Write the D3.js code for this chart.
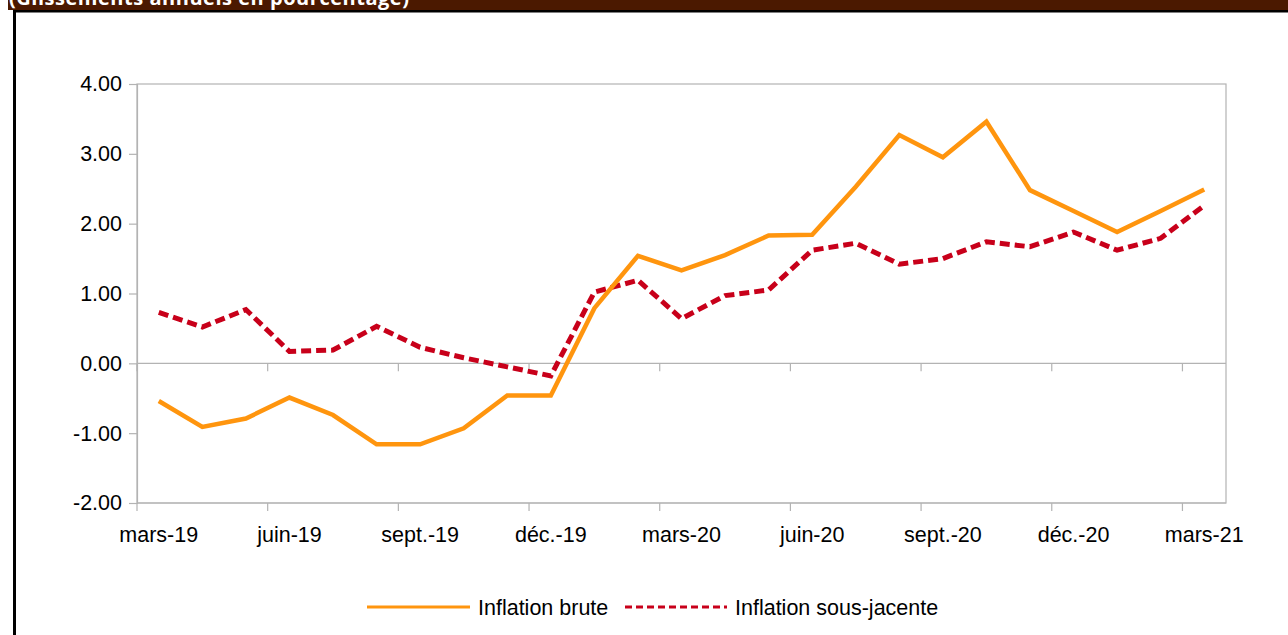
<!DOCTYPE html>
<html>
<head>
<meta charset="utf-8">
<script src="https://cdn.jsdelivr.net/npm/d3@7"></script>
<style>
  body { margin: 0; background: #fff; }
  text { font-family: "Liberation Sans", Arial, sans-serif; }
</style>
</head>
<body>
<div id="chart-container"></div>
<script>
const months = [
  "mars-19", "avr.-19", "mai-19", "juin-19", "juil.-19", "août-19", "sept.-19", "oct.-19", "nov.-19",
  "déc.-19", "janv.-20", "févr.-20", "mars-20", "avr.-20", "mai-20", "juin-20", "juil.-20", "août-20",
  "sept.-20", "oct.-20", "nov.-20", "déc.-20", "janv.-21", "févr.-21", "mars-21"
];
const inflationBrute = [
  -0.54, -0.91, -0.79, -0.49, -0.74, -1.16, -1.16, -0.93, -0.46, -0.46,
  0.79, 1.54, 1.33, 1.55, 1.83, 1.84, 2.53, 3.27, 2.95, 3.46,
  2.48, 2.18, 1.88, 2.18, 2.49
];
const inflationSousJacente = [
  0.73, 0.52, 0.77, 0.17, 0.19, 0.53, 0.23, 0.08, -0.05, -0.18,
  1.02, 1.19, 0.64, 0.97, 1.05, 1.62, 1.72, 1.42, 1.50, 1.74,
  1.67, 1.88, 1.62, 1.79, 2.26
];
const yTicks = [-2, -1, 0, 1, 2, 3, 4];
const labelEvery = 3;
const title = "(Glissements annuels en pourcentage)";

const W = 1288, H = 635;
const plot = { left: 137, right: 1226, top: 84, bottom: 503 };
const gridColor = "#b3b3b3";
const orange = "#ff950e";
const red = "#c8001a";

const svg = d3.select("#chart-container")
  .append("svg")
  .attr("width", W)
  .attr("height", H);

// header band + frame (the title is cut by the top edge, as in the source)
svg.append("rect").attr("x", 8).attr("y", 0).attr("width", W - 8).attr("height", 10).attr("fill", "#4b1900");
svg.append("text")
  .attr("x", 9)
  .attr("y", 5)
  .attr("fill", "#fff")
  .style("font-family", "'Open Sans', sans-serif")
  .style("font-weight", "bold")
  .style("font-size", "20px")
  .attr("textLength", 400)
  .text(title);
svg.append("rect").attr("x", 13).attr("y", 10).attr("width", W - 13).attr("height", 2.5).attr("fill", "#000");
svg.append("rect").attr("x", 13).attr("y", 10).attr("width", 3).attr("height", H - 10).attr("fill", "#000");

const x = d3.scaleBand()
  .domain(months)
  .range([plot.left, plot.right])
  .padding(0);

const y = d3.scaleLinear([-2, 4], [plot.bottom, plot.top]);

const cx = (m) => x(m) + x.bandwidth() / 2;

// plot frame
svg.append("rect")
  .attr("x", plot.left)
  .attr("y", plot.top)
  .attr("width", plot.right - plot.left)
  .attr("height", plot.bottom - plot.top)
  .attr("fill", "none")
  .attr("stroke", gridColor)
  .attr("stroke-width", 1.2);

// y axis
const yAxis = svg.append("g")
  .attr("transform", `translate(${plot.left},0)`)
  .call(d3.axisLeft(y).tickValues(yTicks).tickSize(8).tickPadding(7).tickFormat(d3.format(".2f")));
yAxis.select(".domain").attr("stroke", gridColor).attr("stroke-width", 1.2);
yAxis.selectAll(".tick line").attr("stroke", gridColor).attr("stroke-width", 1.2);
yAxis.selectAll(".tick text")
  .attr("fill", "#000")
  .style("font-size", "21.5px")
  .style("font-family", "'Liberation Sans', Arial, sans-serif")
  .text((d) => d3.format(".2f")(d).replace("−", "-"));

// x ticks at category boundaries, both on the zero line and on the bottom
const tickMonths = months.filter((m, i) => i % labelEvery === 0);

[0, -2].forEach((v) => {
  const g = svg.append("g").attr("transform", `translate(0,${y(v)})`);
  g.append("line")
    .attr("x1", plot.left)
    .attr("x2", plot.right)
    .attr("stroke", gridColor)
    .attr("stroke-width", 1.2);
  g.selectAll("line.tk")
    .data(tickMonths)
    .join("line")
    .attr("class", "tk")
    .attr("x1", (m) => x(m))
    .attr("x2", (m) => x(m))
    .attr("y1", 0)
    .attr("y2", 8)
    .attr("stroke", gridColor)
    .attr("stroke-width", 1.2);
});

svg.append("g")
  .selectAll("text")
  .data(tickMonths)
  .join("text")
  .attr("x", (m) => cx(m))
  .attr("y", plot.bottom + 39)
  .attr("text-anchor", "middle")
  .style("font-size", "21.5px")
  .attr("fill", "#000")
  .text((m) => m);

// lines
const line = d3.line()
  .x((d, i) => cx(months[i]))
  .y((d) => y(d));

svg.append("path")
  .attr("d", line(inflationSousJacente))
  .attr("fill", "none")
  .attr("stroke", red)
  .attr("stroke-width", 5)
  .attr("stroke-dasharray", "10,5");

svg.append("path")
  .attr("d", line(inflationBrute))
  .attr("fill", "none")
  .attr("stroke", orange)
  .attr("stroke-width", 4.5);

// legend
const legend = svg.append("g").attr("transform", "translate(0,607)");
legend.append("line")
  .attr("x1", 367).attr("x2", 470)
  .attr("stroke", orange).attr("stroke-width", 3);
legend.append("text")
  .attr("x", 478).attr("y", 7.5)
  .style("font-size", "21.5px")
  .attr("fill", "#000")
  .text("Inflation brute");
legend.append("line")
  .attr("x1", 625).attr("x2", 727)
  .attr("stroke", red).attr("stroke-width", 3)
  .attr("stroke-dasharray", "7,4");
legend.append("text")
  .attr("x", 735).attr("y", 7.5)
  .style("font-size", "21.5px")
  .attr("fill", "#000")
  .text("Inflation sous-jacente");
</script>
</body>
</html>
